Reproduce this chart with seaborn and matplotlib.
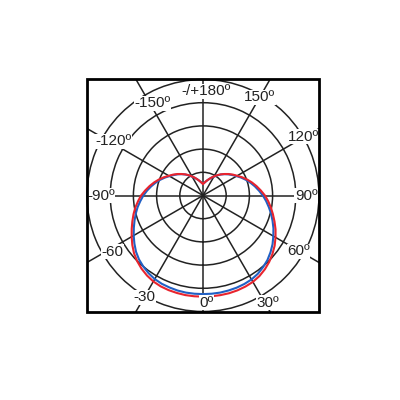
import numpy as np
import pandas as pd
import matplotlib
matplotlib.use("Agg")
import matplotlib.pyplot as plt
from matplotlib.patches import Rectangle
import seaborn as sns

# ---- data ----
angles_deg = list(range(-180, 181, 5))
blue_r = [0.50, 0.54, 0.60, 0.67, 0.75, 0.84, 0.94, 1.06, 1.18, 1.30,
          1.42, 1.54, 1.67, 1.82, 1.97, 2.12, 2.27, 2.42, 2.57,
          2.71, 2.86, 3.00, 3.14, 3.29, 3.45, 3.61, 3.77, 3.90, 4.00,
          4.09, 4.16, 4.20, 4.22, 4.24, 4.25, 4.25,
          4.25,
          4.25, 4.25, 4.24, 4.23, 4.21, 4.18, 4.12, 4.03, 3.93, 3.80,
          3.66, 3.50, 3.35, 3.19, 3.04, 2.88, 2.73, 2.58,
          2.42, 2.27, 2.12, 1.97, 1.82, 1.67, 1.54, 1.42, 1.30, 1.18,
          1.06, 0.94, 0.84, 0.75, 0.67, 0.60, 0.54, 0.50]
red_r = [0.50, 0.54, 0.60, 0.67, 0.75, 0.85, 0.95, 1.07, 1.19, 1.31,
         1.44, 1.57, 1.70, 1.86, 2.02, 2.18, 2.34, 2.50, 2.67,
         2.81, 2.96, 3.10, 3.24, 3.39, 3.55, 3.72, 3.88, 4.01, 4.12,
         4.21, 4.28, 4.32, 4.34, 4.35, 4.36, 4.36,
         4.36,
         4.36, 4.36, 4.36, 4.35, 4.33, 4.30, 4.24, 4.15, 4.04, 3.91,
         3.77, 3.61, 3.45, 3.28, 3.12, 2.97, 2.82, 2.67,
         2.50, 2.34, 2.18, 2.02, 1.86, 1.70, 1.57, 1.44, 1.31, 1.19,
         1.07, 0.95, 0.85, 0.75, 0.67, 0.60, 0.54, 0.50]
tick_angles = [180, 150, 120, 90, 60, 30, 0, -30, -60, -90, -120, -150]
tick_labels = ["-/+180º", "150º", "120º", "90º", "60º", "30º", "0º",
               "-30", "-60", "-90º", "-120º", "-150º"]
ring_values = [1, 2, 3, 4, 5]

sns.set_theme(style="white")
plt.rcParams['font.family'] = ['Liberation Sans', 'DejaVu Sans']

W = H = 400
fig = plt.figure(figsize=(4, 4), dpi=100)
fig.patch.set_facecolor("white")

# box in pixels
bx0, bx1, by0, by1 = 87, 319, 79, 312
cx, cy = (bx0 + bx1) / 2, (by0 + by1) / 2
rmax_units = 7.2
px_per_unit = (bx1 - bx0) / 2 / 5.0
rad_px = rmax_units * px_per_unit
ax = fig.add_axes([(cx - rad_px) / W, (H - cy - rad_px) / H,
                   2 * rad_px / W, 2 * rad_px / H], projection="polar")
ax.set_theta_zero_location("S")
ax.set_theta_direction(1)
ax.set_facecolor("none")
ax.spines["polar"].set_visible(False)

df = pd.DataFrame({"theta": np.deg2rad(angles_deg), "blue": blue_r, "red": red_r})
sns.lineplot(data=df, x="theta", y="blue", ax=ax, sort=False, estimator=None,
             color="#2160c4", lw=1.5, zorder=3)
sns.lineplot(data=df, x="theta", y="red", ax=ax, sort=False, estimator=None,
             color="#e8242e", lw=1.5, zorder=4)
ax.set_xlabel("")
ax.set_ylabel("")

grid_col = "#222222"
ax.set_yticks(ring_values)
ax.set_yticklabels([])
ax.yaxis.grid(True, color=grid_col, lw=1.1)
ax.set_xticks(np.deg2rad(tick_angles))
ax.set_xticklabels([])
ax.xaxis.grid(False)

box = Rectangle((bx0 / W, (H - by1) / H), (bx1 - bx0) / W, (by1 - by0) / H,
                transform=fig.transFigure, fill=False, ec="black", lw=2.0,
                zorder=10)
fig.add_artist(box)

# spokes, clipped to the box
for t in tick_angles:
    ln, = ax.plot([np.deg2rad(t), np.deg2rad(t)], [0, rmax_units],
                  color=grid_col, lw=1.1, zorder=1)
    ln.set_clip_path(box.get_path(), box.get_transform())
ax.set_thetalim(0, 2 * np.pi)
ax.set_ylim(0, rmax_units)

# label placement (layout)
label_pos = {180: (178.2, 4.5), 150: (150, 4.88), 120: (120.4, 5.0),
             90: (90, 4.45), 60: (59.7, 4.77), 30: (31, 5.4), 0: (2, 4.63),
             -30: (-29.8, 5.05), -60: (-58.3, 4.6), -90: (-90, 4.4),
             -120: (-121.1, 4.53), -150: (-151.3, 4.53)}
for t, lab in zip(tick_angles, tick_labels):
    a, r = label_pos[t]
    ax.text(np.deg2rad(a), r, lab, ha="center", va="center", fontsize=11,
            color="#222222", zorder=6,
            bbox=dict(boxstyle="square,pad=0.03", fc="white", ec="none"))

fig.savefig("out.png", dpi=100, facecolor="white")
